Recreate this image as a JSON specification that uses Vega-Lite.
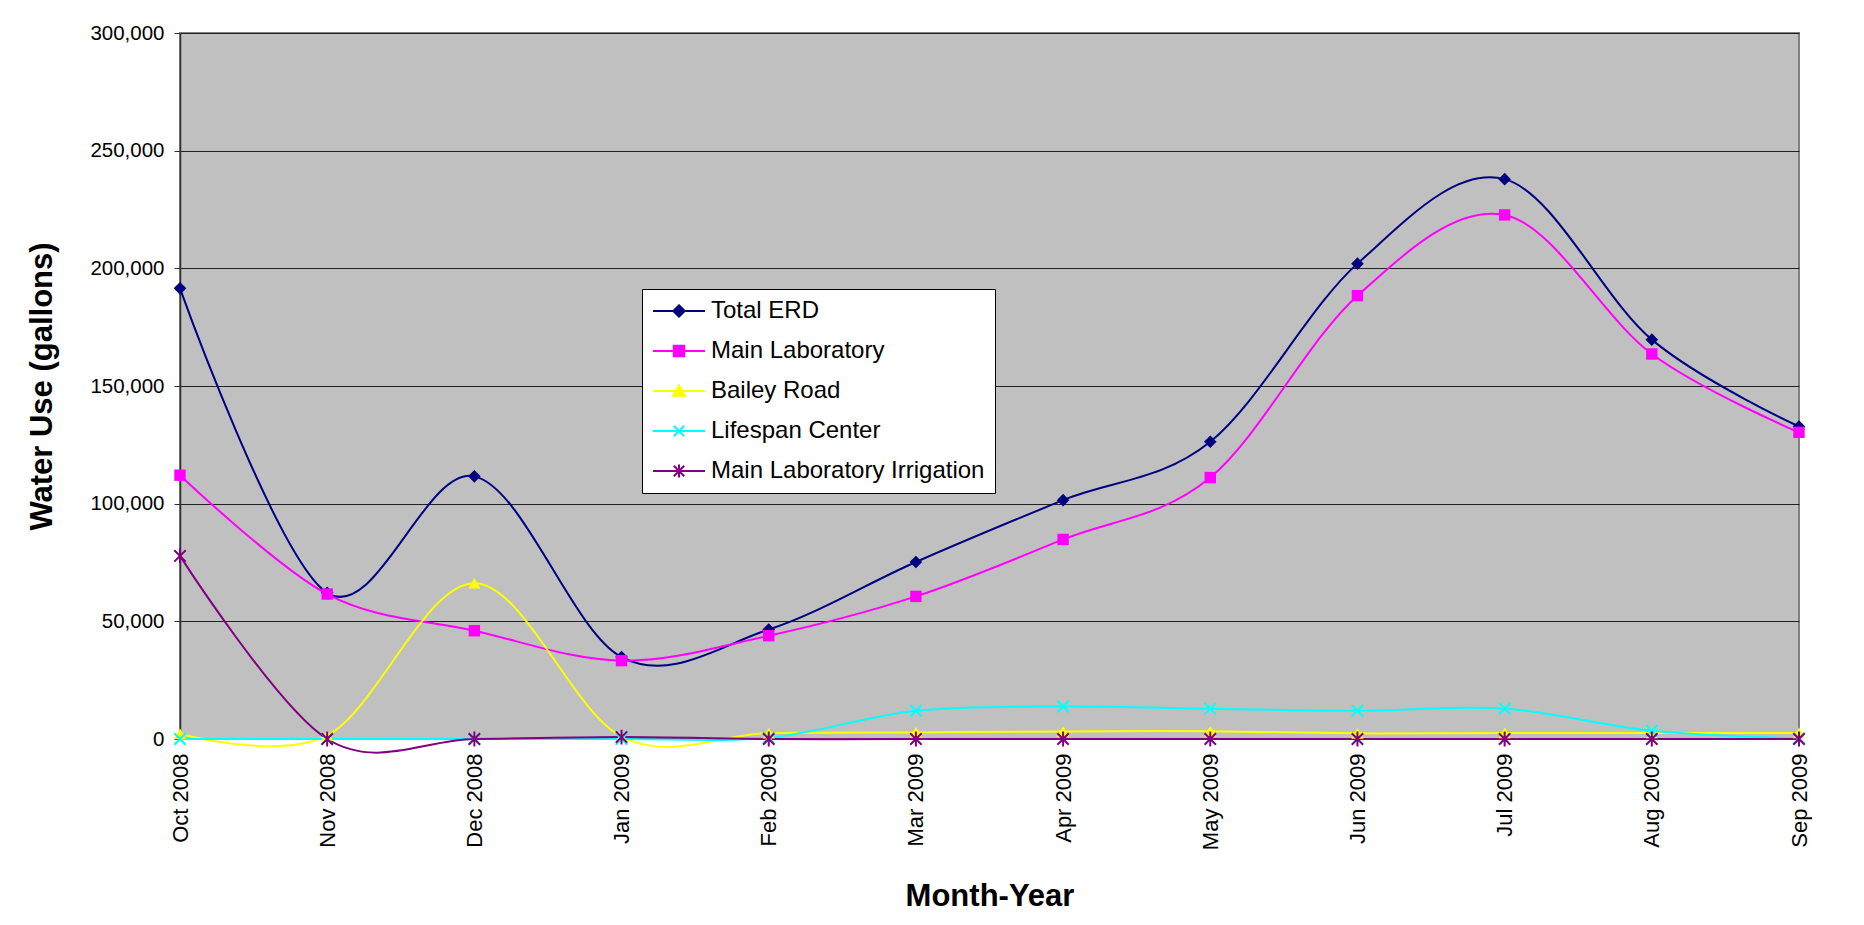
{
  "$schema": "https://vega.github.io/schema/vega-lite/v6.json",
  "width": 1619,
  "height": 706,
  "autosize": {"type": "none"},
  "padding": {"left": 180, "top": 33, "right": 65, "bottom": 186},
  "background": "#ffffff",
  "config": {
    "font": "Liberation Sans",
    "view": {"fill": "#C0C0C0", "stroke": "#808080", "strokeWidth": 2}
  },
  "data": {
    "values": [
      {"month": "Oct 2008", "series": "Total ERD", "value": 191500},
      {"month": "Nov 2008", "series": "Total ERD", "value": 62100},
      {"month": "Dec 2008", "series": "Total ERD", "value": 111600},
      {"month": "Jan 2009", "series": "Total ERD", "value": 34800},
      {"month": "Feb 2009", "series": "Total ERD", "value": 46500},
      {"month": "Mar 2009", "series": "Total ERD", "value": 75200},
      {"month": "Apr 2009", "series": "Total ERD", "value": 101500},
      {"month": "May 2009", "series": "Total ERD", "value": 126300},
      {"month": "Jun 2009", "series": "Total ERD", "value": 202000},
      {"month": "Jul 2009", "series": "Total ERD", "value": 237900},
      {"month": "Aug 2009", "series": "Total ERD", "value": 169700},
      {"month": "Sep 2009", "series": "Total ERD", "value": 132800},
      {"month": "Oct 2008", "series": "Main Laboratory", "value": 112100},
      {"month": "Nov 2008", "series": "Main Laboratory", "value": 61600},
      {"month": "Dec 2008", "series": "Main Laboratory", "value": 46000},
      {"month": "Jan 2009", "series": "Main Laboratory", "value": 33300},
      {"month": "Feb 2009", "series": "Main Laboratory", "value": 43900},
      {"month": "Mar 2009", "series": "Main Laboratory", "value": 60600},
      {"month": "Apr 2009", "series": "Main Laboratory", "value": 84800},
      {"month": "May 2009", "series": "Main Laboratory", "value": 111100},
      {"month": "Jun 2009", "series": "Main Laboratory", "value": 188400},
      {"month": "Jul 2009", "series": "Main Laboratory", "value": 222700},
      {"month": "Aug 2009", "series": "Main Laboratory", "value": 163600},
      {"month": "Sep 2009", "series": "Main Laboratory", "value": 130300},
      {"month": "Oct 2008", "series": "Bailey Road", "value": 2200},
      {"month": "Nov 2008", "series": "Bailey Road", "value": 1500},
      {"month": "Dec 2008", "series": "Bailey Road", "value": 66200},
      {"month": "Jan 2009", "series": "Bailey Road", "value": 1000},
      {"month": "Feb 2009", "series": "Bailey Road", "value": 2500},
      {"month": "Mar 2009", "series": "Bailey Road", "value": 2800},
      {"month": "Apr 2009", "series": "Bailey Road", "value": 3200},
      {"month": "May 2009", "series": "Bailey Road", "value": 3300},
      {"month": "Jun 2009", "series": "Bailey Road", "value": 2400},
      {"month": "Jul 2009", "series": "Bailey Road", "value": 2600},
      {"month": "Aug 2009", "series": "Bailey Road", "value": 2600},
      {"month": "Sep 2009", "series": "Bailey Road", "value": 2600},
      {"month": "Oct 2008", "series": "Lifespan Center", "value": 0},
      {"month": "Nov 2008", "series": "Lifespan Center", "value": 0},
      {"month": "Dec 2008", "series": "Lifespan Center", "value": 0},
      {"month": "Jan 2009", "series": "Lifespan Center", "value": 0},
      {"month": "Feb 2009", "series": "Lifespan Center", "value": 500},
      {"month": "Mar 2009", "series": "Lifespan Center", "value": 12000},
      {"month": "Apr 2009", "series": "Lifespan Center", "value": 13800},
      {"month": "May 2009", "series": "Lifespan Center", "value": 12900},
      {"month": "Jun 2009", "series": "Lifespan Center", "value": 12000},
      {"month": "Jul 2009", "series": "Lifespan Center", "value": 12900},
      {"month": "Aug 2009", "series": "Lifespan Center", "value": 3500},
      {"month": "Sep 2009", "series": "Lifespan Center", "value": 300},
      {"month": "Oct 2008", "series": "Main Laboratory Irrigation", "value": 77800},
      {"month": "Nov 2008", "series": "Main Laboratory Irrigation", "value": 0},
      {"month": "Dec 2008", "series": "Main Laboratory Irrigation", "value": 0},
      {"month": "Jan 2009", "series": "Main Laboratory Irrigation", "value": 800},
      {"month": "Feb 2009", "series": "Main Laboratory Irrigation", "value": 0},
      {"month": "Mar 2009", "series": "Main Laboratory Irrigation", "value": 0},
      {"month": "Apr 2009", "series": "Main Laboratory Irrigation", "value": 0},
      {"month": "May 2009", "series": "Main Laboratory Irrigation", "value": 0},
      {"month": "Jun 2009", "series": "Main Laboratory Irrigation", "value": 0},
      {"month": "Jul 2009", "series": "Main Laboratory Irrigation", "value": 0},
      {"month": "Aug 2009", "series": "Main Laboratory Irrigation", "value": 0},
      {"month": "Sep 2009", "series": "Main Laboratory Irrigation", "value": 0}
    ]
  },
  "encoding": {
    "x": {
      "field": "month",
      "type": "nominal",
      "sort": ["Oct 2008", "Nov 2008", "Dec 2008", "Jan 2009", "Feb 2009", "Mar 2009", "Apr 2009", "May 2009", "Jun 2009", "Jul 2009", "Aug 2009", "Sep 2009"],
      "scale": {"type": "point", "padding": 0},
      "axis": {
        "title": "Month-Year",
        "titleFontSize": 31,
        "titleFontWeight": "bold",
        "titleColor": "#000000",
        "titleY": 166,
        "titleBaseline": "alphabetic",
        "labelAngle": 270,
        "labelFontSize": 22,
        "labelColor": "#000000",
        "labelPadding": 14,
        "ticks": false,
        "domain": true,
        "domainColor": "#333333",
        "grid": false
      }
    },
    "y": {
      "field": "value",
      "type": "quantitative",
      "scale": {"domain": [0, 300000], "nice": false, "zero": true},
      "axis": {
        "title": "Water Use (gallons)",
        "titleFontSize": 31,
        "titleFontWeight": "bold",
        "titleColor": "#000000",
        "titleX": -129,
        "titleBaseline": "alphabetic",
        "values": [0, 50000, 100000, 150000, 200000, 250000, 300000],
        "format": ",.0f",
        "labelFontSize": 20.5,
        "labelColor": "#000000",
        "labelPadding": 10,
        "tickSize": 6,
        "tickColor": "#333333",
        "domainColor": "#333333",
        "domainWidth": 1.5,
        "grid": true,
        "gridColor": "#222222",
        "gridWidth": 1
      }
    },
    "color": {
      "field": "series",
      "type": "nominal",
      "scale": {
        "domain": ["Total ERD", "Main Laboratory", "Bailey Road", "Lifespan Center", "Main Laboratory Irrigation"],
        "range": ["#000080", "#FF00FF", "#FFFF00", "#00FFFF", "#800080"]
      }
    }
  },
  "layer": [
    {
      "mark": {"type": "line", "interpolate": "cardinal", "tension": 0, "strokeWidth": 2, "clip": false},
      "encoding": {
        "color": {
          "field": "series",
          "type": "nominal",
          "legend": {
            "title": null,
            "orient": "none",
            "legendX": 462,
            "legendY": 256,
            "fillColor": "#ffffff",
            "strokeColor": "#000000",
            "padding": 10,
            "labelFontSize": 24,
            "labelColor": "#000000",
            "labelOffset": 20,
            "labelLimit": 400,
            "symbolSize": 400,
            "symbolOffset": 15,
            "symbolStrokeWidth": 2,
            "rowPadding": 16,
            "encode": {
              "symbols": {
                "update": {
                  "shape": {"signal": "datum.value === 'Total ERD' ? 'M-2.6,0L2.6,0M0,-0.57L0.57,0L0,0.57L-0.57,0Z' : datum.value === 'Main Laboratory' ? 'M-2.6,0L2.6,0M-0.52,-0.52L0.52,-0.52L0.52,0.52L-0.52,0.52Z' : datum.value === 'Bailey Road' ? 'M-2.6,0L2.6,0M0,-0.58L0.6,0.47L-0.6,0.47Z' : datum.value === 'Lifespan Center' ? 'M-2.6,0L2.6,0M-0.52,-0.52L0.52,0.52M-0.52,0.52L0.52,-0.52' : 'M-2.6,0L2.6,0M-0.52,-0.52L0.52,0.52M-0.52,0.52L0.52,-0.52M0,-0.65L0,0.65'"},
                  "fill": {"signal": "scale('color', datum.value)"},
                  "stroke": {"signal": "scale('color', datum.value)"},
                  "strokeWidth": {"value": 2},
                  "opacity": {"value": 1}
                }
              }
            }
          }
        }
      }
    },
    {
      "transform": [{"filter": "datum.series === 'Total ERD'"}],
      "mark": {"type": "point", "shape": "diamond", "filled": true, "opacity": 1, "size": 160, "clip": false}
    },
    {
      "transform": [{"filter": "datum.series === 'Main Laboratory'"}],
      "mark": {"type": "point", "shape": "square", "filled": true, "opacity": 1, "size": 130, "clip": false}
    },
    {
      "transform": [{"filter": "datum.series === 'Bailey Road'"}],
      "mark": {"type": "point", "shape": "triangle-up", "filled": true, "opacity": 1, "size": 150, "clip": false}
    },
    {
      "transform": [{"filter": "datum.series === 'Lifespan Center'"}],
      "mark": {"type": "point", "shape": "M-1,-1L1,1M-1,1L1,-1", "filled": false, "opacity": 1, "size": 130, "strokeWidth": 2, "clip": false}
    },
    {
      "transform": [{"filter": "datum.series === 'Main Laboratory Irrigation'"}],
      "mark": {"type": "point", "shape": "M-1,-1L1,1M-1,1L1,-1M0,-1.3L0,1.3", "filled": false, "opacity": 1, "size": 130, "strokeWidth": 2, "clip": false}
    }
  ]
}
